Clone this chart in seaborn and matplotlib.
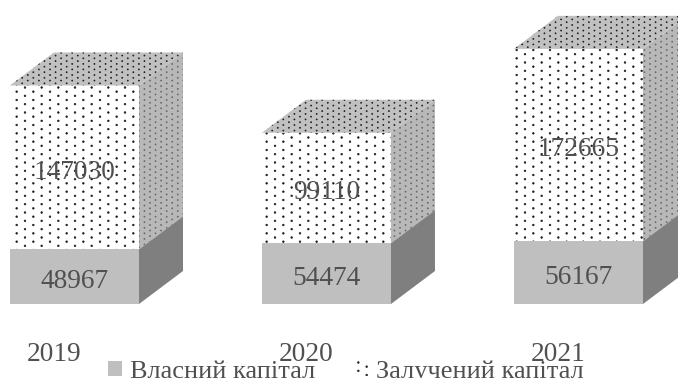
import matplotlib
matplotlib.use("Agg")
import matplotlib.pyplot as plt
import matplotlib.hatch as mhatch
import numpy as np
import seaborn as sns
from matplotlib.patches import Polygon, Patch

years = ["2019", "2020", "2021"]
own_capital = [48967, 54474, 56167]
borrowed_capital = [147030, 99110, 172665]
series_names = ["Власний капітал", "Залучений капітал"]

INK = "#505050"
OWN_FRONT = "#BFBFBF"
OWN_SIDE = "#7F7F7F"
BORROWED_SIDE = "#B8B8B8"
BORROWED_TOP = "#C0C0C0"
DOTS = "#1A1A1A"
SIDE_DOTS = "#666666"
BAR_WIDTH = 0.512
DEPTH_X = 0.1746
DEPTH_Y = 29600
VALUE_FONT = 19.7


class ColumnDots(mhatch.SmallFilledCircles):
    """Small dots staggered by column rather than by row."""

    def set_vertices_and_codes(self, vertices, codes):
        super().set_vertices_and_codes(vertices, codes)
        vertices[:] = vertices[:, ::-1].copy()


mhatch._hatch_types[mhatch._hatch_types.index(mhatch.SmallFilledCircles)] = ColumnDots

sns.set_theme(style="white")
plt.rcParams["font.family"] = ["Liberation Serif", "DejaVu Serif"]
plt.rcParams["hatch.linewidth"] = 0.45

fig = plt.figure(figsize=(6.78, 3.78), dpi=100)
ax = fig.add_axes([0, 0, 1, 1])

own = np.array(own_capital, dtype=float)
borrowed = np.array(borrowed_capital, dtype=float)
total = own + borrowed

# Front faces: the full stack first, the own-capital part over it.
sns.barplot(x=years, y=total, color="white", saturation=1, width=BAR_WIDTH,
            hatch="..", edgecolor=DOTS, linewidth=0, ax=ax, zorder=2)
sns.barplot(x=years, y=own, color=OWN_FRONT, saturation=1, width=BAR_WIDTH,
            linewidth=0, ax=ax, zorder=3)

# Extruded side and top faces for the 3D look.
for i in range(len(years)):
    left, right = i - BAR_WIDTH / 2, i + BAR_WIDTH / 2
    ax.add_patch(Polygon([(right, 0), (right, own[i]),
                          (right + DEPTH_X, own[i] + DEPTH_Y), (right + DEPTH_X, DEPTH_Y)],
                         facecolor=OWN_SIDE, edgecolor="none", zorder=3))
    ax.add_patch(Polygon([(right, own[i]), (right, total[i]),
                          (right + DEPTH_X, total[i] + DEPTH_Y), (right + DEPTH_X, own[i] + DEPTH_Y)],
                         facecolor=BORROWED_SIDE, edgecolor=SIDE_DOTS, hatch="...", linewidth=0, zorder=2))
    ax.add_patch(Polygon([(left, total[i]), (right, total[i]),
                          (right + DEPTH_X, total[i] + DEPTH_Y), (left + DEPTH_X, total[i] + DEPTH_Y)],
                         facecolor=BORROWED_TOP, edgecolor=DOTS, hatch="...", linewidth=0, zorder=2))
    ax.annotate(f"{own_capital[i]}", xy=(i, own[i] / 2), xytext=(0, -3.7), textcoords="offset points",
                ha="center", va="center", fontsize=VALUE_FONT, color=INK, zorder=5)
    ax.annotate(f"{borrowed_capital[i]}", xy=(i, own[i] + borrowed[i] / 2), xytext=(0, -3.5),
                textcoords="offset points", ha="center", va="center",
                fontsize=VALUE_FONT, color=INK, zorder=5)
    ax.annotate(years[i], xy=(i, 0), xytext=(-14.4, -36.5), textcoords="offset points",
                ha="center", va="center", fontsize=VALUE_FONT, color=INK, zorder=4,
                annotation_clip=False)

ax.set_xlim(-0.2956, 2.395)
ax.set_ylim(-66370, 272650)
ax.axis("off")

handles = [Patch(facecolor=OWN_FRONT, edgecolor="none"),
           Patch(facecolor="white", edgecolor=DOTS, hatch="..", linewidth=0)]
ax.legend(handles, series_names, loc="lower left", bbox_to_anchor=(0.16, -0.013), ncol=2,
          frameon=False, fontsize=19, labelcolor=INK, handlelength=0.53, handleheight=0.53,
          handletextpad=0.3, columnspacing=1.45, borderaxespad=0, borderpad=0)

fig.savefig("out.png", dpi=100)
